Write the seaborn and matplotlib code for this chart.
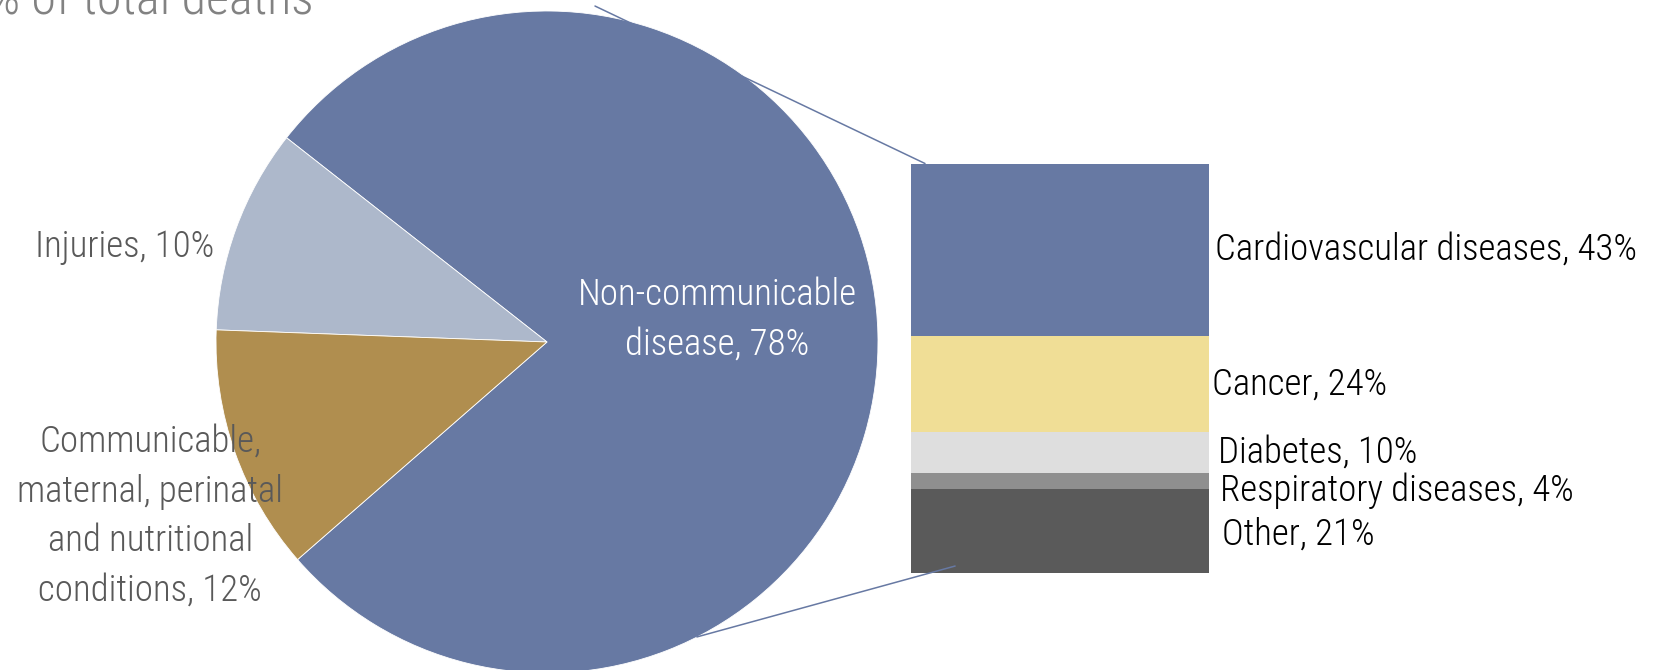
import matplotlib
matplotlib.use("Agg")
import matplotlib.pyplot as plt
from matplotlib.patches import ConnectionPatch
import seaborn as sns
import pandas as pd

# Share of total deaths by broad cause
pie_labels = ["Non-communicable\ndisease, 78%", "Injuries, 10%",
              "Communicable,\nmaternal, perinatal\nand nutritional\nconditions, 12%"]
pie_values = [78, 10, 12]
pie_colors = ["#6779A3", "#ADB8CB", "#B08E4F"]

# Breakdown of non-communicable disease deaths (stack order: top to bottom)
ncd_causes = ["Cardiovascular diseases", "Cancer", "Diabetes", "Respiratory diseases", "Other"]
ncd_values = [43, 24, 10, 4, 21]
ncd_colors = ["#6779A3", "#F0DE96", "#DEDEDE", "#8F8F8F", "#5A5A5A"]

title_text = "% of total deaths"

sns.set_theme(style="white")
plt.rcParams["font.family"] = ["Roboto Condensed", "Open Sans Condensed",
                               "Liberation Sans Narrow", "Roboto", "DejaVu Sans"]

W, H = 1654, 670
LABEL_SIZE = 26.6
fig = plt.figure(figsize=(W / 100, H / 100), dpi=100)

def px_axes(left, top, width, height):
    return fig.add_axes([left / W, (H - top - height) / H, width / W, height / H])

# ---- pie ----
R = 331
cx, cy = 547, 342
ax_pie = px_axes(cx - R, cy - R, 2 * R, 2 * R)
ncd_span = pie_values[0] / sum(pie_values) * 360
ax_pie.pie(pie_values, colors=pie_colors, startangle=-ncd_span / 2 + 1.5,
           counterclock=True, radius=1.0,
           wedgeprops=dict(linewidth=0.6, edgecolor="white"))
ax_pie.set_xlim(-1, 1)
ax_pie.set_ylim(-1, 1)
ax_pie.set_aspect("equal")
ax_pie.axis("off")

label_pos = [(0.514, 0.066), (-1.275, 0.287), (-1.199, -0.527)]
label_col = ["white", "#595959", "#595959"]
for lab, (lx, ly), col in zip(pie_labels, label_pos, label_col):
    ax_pie.text(lx, ly, lab, ha="center", va="center", color=col,
                fontsize=LABEL_SIZE, fontweight="light", linespacing=1.49, clip_on=False)

# ---- stacked bar of the non-communicable slice ----
ax_bar = px_axes(911, 163.5, 298, 409.5)
cum = []
running = 0
for v in reversed(ncd_values):
    running += v
    cum.append(running)
cum = cum[::-1]  # cumulative height at the top of each segment
total = cum[0]
for top, col in zip(cum, ncd_colors):
    df = pd.DataFrame({"group": ["NCD"], "share": [top]})
    sns.barplot(data=df, x="group", y="share", color=col, width=1.0,
                saturation=1, linewidth=0, ax=ax_bar)
ax_bar.set_xlim(-0.5, 0.5)
ax_bar.set_ylim(0, total)
ax_bar.axis("off")

nudges = [(6, 0), (3, 0), (9, 0), (11, -10), (13, -4)]
for cause, v, top, (dx, dy) in zip(ncd_causes, ncd_values, cum, nudges):
    ax_bar.annotate(f"{cause}, {v}%", xy=(0.5, top - v / 2), xytext=(dx, dy),
                    textcoords="offset pixels", ha="left", va="center",
                    fontsize=LABEL_SIZE, fontweight="light", color="black",
                    annotation_clip=False)

# ---- series lines linking the pie to the bar ----
for (px, py), (bx, by) in [((0.145, 1.015), (0.047, 1.0)), ((0.453, -0.891), (0.148, 0.017))]:
    con = ConnectionPatch(xyA=(px, py), coordsA=ax_pie.transData,
                          xyB=(bx, by), coordsB=ax_bar.transAxes,
                          color="#6779A3", linewidth=1.1)
    fig.add_artist(con)

# ---- title (runs off the top-left corner) ----
fig.text(314 / W, (H - 13) / H, title_text, ha="right", va="baseline",
         fontsize=36.2, fontweight="light", color="#828282")

fig.savefig("out.png", dpi=100)
